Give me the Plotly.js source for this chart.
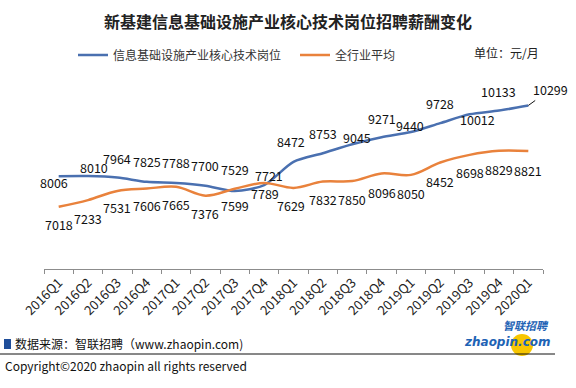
<!DOCTYPE html>
<html>
<head>
<meta charset="utf-8">
<script src="https://cdn.plot.ly/plotly-3.0.1.min.js"></script>
<style>
html,body{margin:0;padding:0;background:#fff;}
#chart{width:576px;height:388px;}
</style>
</head>
<body>
<div id="chart"></div>
<script>
// ---- data ----
const categories = ['2016Q1','2016Q2','2016Q3','2016Q4','2017Q1','2017Q2','2017Q3','2017Q4',
  '2018Q1','2018Q2','2018Q3','2018Q4','2019Q1','2019Q2','2019Q3','2019Q4','2020Q1'];
const coreJobs = [8006, 8010, 7964, 7825, 7788, 7700, 7529, 7721, 8472, 8753, 9045, 9271, 9440, 9728, 10012, 10133, 10299];
const industryAvg = [7018, 7233, 7531, 7606, 7665, 7376, 7599, 7789, 7629, 7832, 7850, 8096, 8050, 8452, 8698, 8829, 8821];
const seriesNames = ['信息基础设施产业核心技术岗位', '全行业平均'];

// ---- label offsets (style, px) [xshift, yshift] ----
const coreShift = [[-5,-6],[6,9],[0,19],[0,20],[0,20],[0,20],[0,21],[5,10],[-3,20],[0,20],[5,7],[0,19],[-1,6],[0,20],[8,-5],[0,19],null];
const avgShift = [[0,-18],[0,-18],[0,-17],[0,-17],[0,-18],[0,-18],[0,-17],[1,-11],[-3,-18],[0,-18],[0,-18],[0,-19],[0,-19],[0,-19],[0,-18],[0,-19],[0,-19]];

const W = 576, H = 388;
const M = {l: 44, r: 33, t: 53, b: 119};
const PW = W - M.l - M.r, PH = H - M.t - M.b;
const px = x => (x - M.l) / PW;
const py = y => (H - M.b - y) / PH;
const FONT = 'Noto Sans CJK SC, Noto Sans, sans-serif';
const BLUE = '#4A70B0', ORANGE = '#E9823C';

const traces = [
  {x: categories, y: coreJobs, name: seriesNames[0], type: 'scatter', mode: 'lines',
   line: {color: BLUE, width: 2.5, shape: 'spline', smoothing: 0.8}, legend: 'legend'},
  {x: categories, y: industryAvg, name: seriesNames[1], type: 'scatter', mode: 'lines',
   line: {color: ORANGE, width: 2.5, shape: 'spline', smoothing: 1}, legend: 'legend2'}
];

const annotations = [];
const labelFont = {family: FONT, size: 12.5, color: '#111'};
coreJobs.forEach((v, i) => {
  if (coreShift[i]) {
    annotations.push({x: categories[i], y: v, xref: 'x', yref: 'y', text: String(v), showarrow: false,
      xshift: coreShift[i][0], yshift: coreShift[i][1], font: labelFont});
  } else {
    annotations.push({x: categories[i], y: v, xref: 'x', yref: 'y', text: String(v), showarrow: true,
      arrowhead: 0, arrowwidth: 1, arrowcolor: '#111', ax: 22, ay: -16, standoff: 0, font: labelFont});
  }
});
industryAvg.forEach((v, i) => {
  annotations.push({x: categories[i], y: v, xref: 'x', yref: 'y', text: String(v), showarrow: false,
    xshift: avgShift[i][0], yshift: avgShift[i][1], font: labelFont});
});

// unit
annotations.push({x: px(472), y: py(52), xref: 'paper', yref: 'paper', xanchor: 'left', yanchor: 'middle',
  text: '单位：元/月', showarrow: false, font: {family: FONT, size: 12, color: '#222'}});
// source
annotations.push({x: px(13), y: py(343), xref: 'paper', yref: 'paper', xanchor: 'left', yanchor: 'middle',
  text: '数据来源：智联招聘（www.zhaopin.com)', showarrow: false, font: {family: FONT, size: 12, color: '#111'}});
annotations.push({x: px(3), y: py(365), xref: 'paper', yref: 'paper', xanchor: 'left', yanchor: 'middle',
  text: 'Copyright©2020 zhaopin all rights reserved', showarrow: false, font: {family: FONT, size: 12, color: '#111'}});
// logo
annotations.push({x: px(551), y: py(325), xref: 'paper', yref: 'paper', xanchor: 'right', yanchor: 'middle',
  text: '<b><i>智联招聘</i></b>', showarrow: false, font: {family: FONT, size: 11, color: '#1E63B5'}});
annotations.push({x: px(553), y: py(342), xref: 'paper', yref: 'paper', xanchor: 'right', yanchor: 'middle',
  text: '<b><i>zhaopin.com</i></b>', showarrow: false, font: {family: 'DejaVu Sans, sans-serif', size: 12, color: '#1E63B5'}});

const shapes = [
  {type: 'rect', xref: 'paper', yref: 'paper', x0: px(4), x1: px(11), y0: py(349), y1: py(339),
   fillcolor: '#1F4E9A', line: {width: 0}},
  {type: 'line', xref: 'paper', yref: 'paper', x0: px(0), x1: px(555), y0: py(354), y1: py(354),
   line: {color: '#111', width: 1}},
  {type: 'circle', xref: 'paper', yref: 'paper', x0: px(511), x1: px(533), y0: py(356), y1: py(334),
   fillcolor: '#F7C600', line: {width: 0}, layer: 'below'}
];

const layout = {
  width: W, height: H,
  margin: M,
  paper_bgcolor: '#fff', plot_bgcolor: '#fff',
  font: {family: FONT, color: '#333'},
  title: {text: '<b>新基建信息基础设施产业核心技术岗位招聘薪酬变化</b>', x: 0.5, xref: 'container',
    y: 1 - 22 / H, yref: 'container', xanchor: 'center', yanchor: 'middle',
    font: {family: FONT, size: 16, color: '#222'}},
  xaxis: {type: 'category', showline: true, linecolor: '#8c8c8c', linewidth: 1,
    ticks: 'outside', tickson: 'boundaries', ticklen: 4, tickcolor: '#8c8c8c',
    tickangle: -45, tickfont: {family: FONT, size: 13, color: '#222'}, showgrid: false, zeroline: false,
    range: [-0.5, 16.5], fixedrange: true, automargin: false},
  yaxis: {range: [5000, 12000], visible: false, showgrid: false, zeroline: false, fixedrange: true},
  showlegend: true,
  legend: {orientation: 'h', xref: 'paper', yref: 'paper', x: px(73), y: py(55),
    xanchor: 'left', yanchor: 'middle', bgcolor: 'rgba(0,0,0,0)', itemwidth: 30,
    font: {family: FONT, size: 12, color: '#333'}},
  legend2: {orientation: 'h', xref: 'paper', yref: 'paper', x: px(295), y: py(55),
    xanchor: 'left', yanchor: 'middle', bgcolor: 'rgba(0,0,0,0)', itemwidth: 30,
    font: {family: FONT, size: 12, color: '#333'}},
  annotations: annotations,
  shapes: shapes,
  hovermode: false
};

Plotly.newPlot('chart', traces, layout, {displayModeBar: false, staticPlot: true});
</script>
</body>
</html>
